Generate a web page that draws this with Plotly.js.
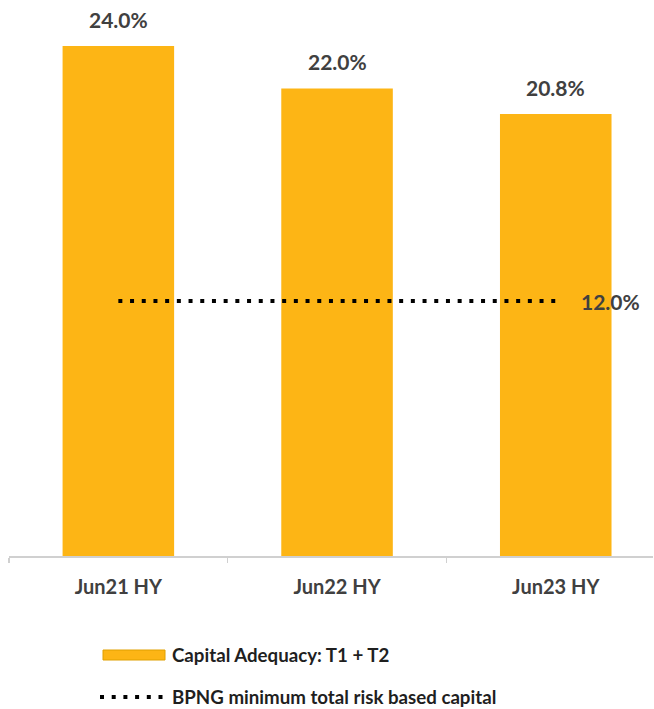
<!DOCTYPE html>
<html>
<head>
<meta charset="utf-8">
<script src="https://cdn.plot.ly/plotly-3.0.1.min.js"></script>
<style>html,body{margin:0;padding:0;background:#fff;}#chart{width:654px;height:709px;}</style>
</head>
<body>
<div id="chart"></div>
<script>
// ---- data ----
const categories = ['Jun21 HY', 'Jun22 HY', 'Jun23 HY'];
const capitalAdequacy = [24.0, 22.0, 20.8];
const bpngMinimum = [12.0, 12.0, 12.0];
const seriesNames = ['Capital Adequacy: T1 + T2', 'BPNG minimum total risk based capital'];

// ---- style ----
const W = 654, H = 709;
const M = {l: 9, r: 1, t: 10, b: 153};
const plotW = W - M.l - M.r, plotH = H - M.t - M.b;
const barColor = '#FDB515';
const textColor = '#404040';
const fam = 'Lato, "Open Sans", sans-serif';
const pxPerCat = 218.7;
const pxPerPct = 21.25;

const fmt = v => v.toFixed(1) + '%';
const px2x = p => (p - M.l) / plotW;
const px2y = p => (H - M.b - p) / plotH;

const traces = [
  {
    type: 'bar', x: categories, y: capitalAdequacy, name: seriesNames[0],
    marker: {color: barColor}, hoverinfo: 'x+y', showlegend: false
  },
  {
    type: 'scatter', mode: 'lines', x: categories, y: bpngMinimum, name: seriesNames[1],
    line: {color: '#000000', width: 4, dash: '4px,7.7px'}, showlegend: false
  }
];

const annotations = [];
categories.forEach((c, i) => {
  annotations.push({
    x: c, y: capitalAdequacy[i], xref: 'x', yref: 'y', text: fmt(capitalAdequacy[i]),
    showarrow: false, yanchor: 'middle', yshift: 27,
    font: {family: fam, size: 21, color: textColor, weight: 'bold'}
  });
});
const last = categories.length - 1;
annotations.push({
  x: categories[last], y: bpngMinimum[last], xref: 'x', yref: 'y', text: fmt(bpngMinimum[last]),
  showarrow: false, xanchor: 'left', yanchor: 'middle', xshift: 23,
  font: {family: fam, size: 21, color: textColor, weight: 'bold'}
});
// custom legend
annotations.push({
  x: px2x(170), y: px2y(655), xref: 'paper', yref: 'paper', text: seriesNames[0],
  showarrow: false, xanchor: 'left', yanchor: 'middle',
  font: {family: fam, size: 18.7, color: '#1f1f1f', weight: 'bold'}
});
annotations.push({
  x: px2x(170), y: px2y(697), xref: 'paper', yref: 'paper', text: seriesNames[1],
  showarrow: false, xanchor: 'left', yanchor: 'middle',
  font: {family: fam, size: 18.7, color: '#1f1f1f', weight: 'bold'}
});

const shapes = [
  {type: 'rect', xref: 'paper', yref: 'paper', x0: px2x(103), x1: px2x(165), y0: px2y(660), y1: px2y(650),
   fillcolor: barColor, line: {color: '#E0A000', width: 1}},
  {type: 'line', xref: 'paper', yref: 'paper', x0: px2x(100), x1: px2x(164), y0: px2y(697), y1: px2y(697),
   line: {color: '#000000', width: 4, dash: '4px,7.7px'}}
];

const layout = {
  width: W, height: H,
  margin: M,
  paper_bgcolor: '#ffffff', plot_bgcolor: '#ffffff',
  showlegend: false,
  bargap: 0.49,
  xaxis: {
    type: 'category', range: [-0.5, -0.5 + plotW / pxPerCat],
    showline: true, linecolor: '#D0D0D0', linewidth: 1.5,
    ticks: 'outside', tickson: 'boundaries', ticklen: 5, tickcolor: '#D0D0D0', tickwidth: 1.5,
    showgrid: false, zeroline: false, fixedrange: true,
    ticklabelstandoff: 12,
    tickfont: {family: fam, size: 20, color: textColor, weight: 'bold'}
  },
  yaxis: {
    range: [0, plotH / pxPerPct], visible: false, showgrid: false, zeroline: false, fixedrange: true
  },
  annotations: annotations,
  shapes: shapes
};

Plotly.newPlot('chart', traces, layout, {displayModeBar: false, staticPlot: true});
</script>
</body>
</html>
